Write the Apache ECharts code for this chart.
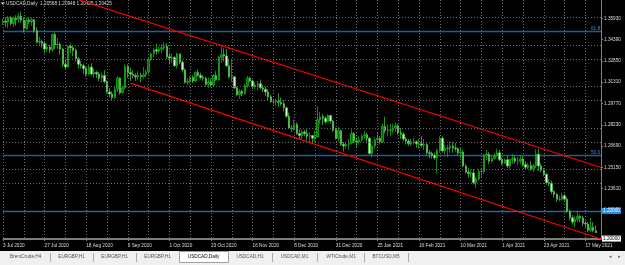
<!DOCTYPE html>
<html>
<head>
<meta charset="utf-8">
<script src="https://cdn.jsdelivr.net/npm/echarts@6/dist/echarts.min.js"></script>
<style>
html, body { margin: 0; padding: 0; background: #000; }
#chart { width: 625px; height: 265px; }
</style>
</head>
<body>
<div id="chart"></div>
<script>
const symbolName = 'USDCAD,Daily';
const lastBar = [1.20568, 1.20948, 1.20425, 1.20425]; // O H L C in the title
const priceTicks = [1.35930, 1.34390, 1.32850, 1.31310, 1.29770, 1.28230, 1.26690, 1.25150, 1.23610, 1.22070];
const fibLevels = [['61.8', 1.3472], ['50.0', 1.2634]];
const userLine = 1.22070;
const bidPrice = 1.20425;
const upperChannel = [[29, 1.3727], [230, 1.2514]];
const lowerChannel = [[49, 1.3124], [230, 1.1997]];
const tabs = ['.BrentCrude,H4', 'EURGBP,H1', 'EURGBP,H1', 'EURGBP,H1', 'USDCAD,Daily', 'USDCAD,H1', 'USDCAD,M1', '.WTICrude,M1', 'BTCUSD,M5'];
const activeTab = 4;

// daily bars: open, close, low, high
const candles = [
  [1.3560,1.3572,1.3545,1.3590],[1.3572,1.3565,1.3530,1.3600],[1.3565,1.3596,1.3520,1.3610],[1.3596,1.3555,1.3540,1.3610],
  [1.3555,1.3594,1.3530,1.3605],[1.3594,1.3585,1.3540,1.3615],[1.3585,1.3608,1.3560,1.3630],[1.3608,1.3578,1.3560,1.3640],
  [1.3578,1.3520,1.3490,1.3600],[1.3520,1.3580,1.3510,1.3595],[1.3580,1.3570,1.3550,1.3600],[1.3570,1.3582,1.3540,1.3600],
  [1.3582,1.3505,1.3490,1.3590],[1.3505,1.3420,1.3410,1.3530],[1.3420,1.3425,1.3390,1.3460],[1.3425,1.3410,1.3380,1.3440],
  [1.3410,1.3370,1.3340,1.3430],[1.3370,1.3385,1.3350,1.3410],[1.3385,1.3365,1.3340,1.3400],[1.3365,1.3475,1.3350,1.3485],
  [1.3475,1.3400,1.3370,1.3490],[1.3400,1.3405,1.3370,1.3450],[1.3405,1.3370,1.3330,1.3420],[1.3370,1.3260,1.3240,1.3380],
  [1.3260,1.3240,1.3225,1.3300],[1.3240,1.3390,1.3235,1.3400],[1.3390,1.3380,1.3340,1.3410],[1.3380,1.3360,1.3320,1.3395],
  [1.3360,1.3300,1.3280,1.3375],[1.3300,1.3260,1.3230,1.3315],[1.3260,1.3250,1.3230,1.3285],[1.3250,1.3230,1.3190,1.3265],
  [1.3230,1.3190,1.3170,1.3245],[1.3190,1.3240,1.3180,1.3260],[1.3240,1.3190,1.3180,1.3270],[1.3190,1.3200,1.3160,1.3230],
  [1.3200,1.3190,1.3160,1.3215],[1.3190,1.3160,1.3140,1.3205],[1.3160,1.3180,1.3130,1.3200],[1.3180,1.3135,1.3120,1.3220],
  [1.3135,1.3060,1.3050,1.3145],[1.3060,1.3045,1.3020,1.3090],[1.3045,1.3020,1.2995,1.3065],[1.3020,1.3080,1.3010,1.3100],
  [1.3080,1.3160,1.3060,1.3175],[1.3160,1.3055,1.3040,1.3165],[1.3055,1.3090,1.3050,1.3105],[1.3090,1.3245,1.3080,1.3260],
  [1.3245,1.3200,1.3160,1.3260],[1.3200,1.3190,1.3140,1.3235],[1.3190,1.3180,1.3160,1.3215],[1.3180,1.3170,1.3140,1.3195],
  [1.3170,1.3180,1.3150,1.3210],[1.3180,1.3170,1.3130,1.3200],[1.3170,1.3185,1.3160,1.3240],[1.3185,1.3205,1.3170,1.3220],
  [1.3205,1.3295,1.3190,1.3310],[1.3295,1.3335,1.3285,1.3345],[1.3335,1.3365,1.3310,1.3380],[1.3365,1.3355,1.3330,1.3410],
  [1.3355,1.3370,1.3340,1.3390],[1.3370,1.3380,1.3340,1.3405],[1.3380,1.3390,1.3360,1.3420],[1.3390,1.3315,1.3300,1.3415],
  [1.3315,1.3305,1.3260,1.3340],[1.3305,1.3310,1.3270,1.3340],[1.3310,1.3250,1.3240,1.3320],[1.3250,1.3335,1.3230,1.3345],
  [1.3335,1.3275,1.3260,1.3340],[1.3275,1.3220,1.3200,1.3290],[1.3220,1.3130,1.3120,1.3230],[1.3130,1.3135,1.3110,1.3160],
  [1.3135,1.3165,1.3120,1.3175],[1.3165,1.3140,1.3125,1.3180],[1.3140,1.3200,1.3130,1.3210],[1.3200,1.3180,1.3170,1.3225],
  [1.3180,1.3165,1.3150,1.3200],[1.3165,1.3160,1.3140,1.3185],[1.3160,1.3115,1.3100,1.3170],[1.3115,1.3130,1.3090,1.3165],
  [1.3130,1.3110,1.3100,1.3160],[1.3110,1.3180,1.3100,1.3190],[1.3180,1.3150,1.3140,1.3210],[1.3150,1.3310,1.3140,1.3320],
  [1.3310,1.3330,1.3270,1.3390],[1.3330,1.3320,1.3280,1.3375],[1.3320,1.3250,1.3240,1.3370],[1.3250,1.3170,1.3160,1.3300],
  [1.3170,1.3170,1.3130,1.3300],[1.3170,1.3090,1.3080,1.3175],[1.3090,1.3040,1.3030,1.3100],[1.3040,1.3065,1.3010,1.3080],
  [1.3065,1.3050,1.3030,1.3080],[1.3050,1.3105,1.3040,1.3120],[1.3105,1.3160,1.3090,1.3175],[1.3160,1.3140,1.3130,1.3170],
  [1.3140,1.3100,1.3080,1.3150],[1.3100,1.3110,1.3080,1.3130],[1.3110,1.3120,1.3070,1.3140],[1.3120,1.3090,1.3080,1.3150],
  [1.3090,1.3080,1.3060,1.3110],[1.3080,1.3060,1.3030,1.3100],[1.3060,1.3025,1.3000,1.3080],[1.3025,1.2990,1.2980,1.3040],
  [1.2990,1.2990,1.2970,1.3010],[1.2990,1.2990,1.2960,1.3010],[1.2990,1.2985,1.2950,1.3050],[1.2985,1.2975,1.2960,1.3020],
  [1.2975,1.2945,1.2920,1.3000],[1.2945,1.2885,1.2870,1.2955],[1.2885,1.2800,1.2790,1.2910],[1.2800,1.2795,1.2770,1.2820],
  [1.2795,1.2825,1.2780,1.2860],[1.2825,1.2760,1.2750,1.2840],[1.2760,1.2745,1.2720,1.2790],[1.2745,1.2770,1.2720,1.2790],
  [1.2770,1.2760,1.2740,1.2785],[1.2760,1.2740,1.2710,1.2790],[1.2740,1.2745,1.2700,1.2770],[1.2745,1.2725,1.2690,1.2750],
  [1.2725,1.2735,1.2700,1.2780],[1.2735,1.2860,1.2730,1.2960],[1.2860,1.2880,1.2830,1.2915],[1.2880,1.2870,1.2820,1.2900],
  [1.2870,1.2845,1.2830,1.2885],[1.2845,1.2890,1.2840,1.2900],[1.2890,1.2850,1.2830,1.2895],[1.2850,1.2785,1.2770,1.2860],
  [1.2785,1.2725,1.2715,1.2800],[1.2725,1.2780,1.2700,1.2810],[1.2780,1.2680,1.2670,1.2790],[1.2680,1.2670,1.2630,1.2700],
  [1.2670,1.2680,1.2650,1.2700],[1.2680,1.2690,1.2640,1.2720],[1.2690,1.2760,1.2680,1.2790],[1.2760,1.2705,1.2690,1.2770],
  [1.2705,1.2700,1.2660,1.2730],[1.2700,1.2715,1.2680,1.2740],[1.2715,1.2740,1.2700,1.2760],[1.2740,1.2750,1.2720,1.2780],
  [1.2750,1.2725,1.2690,1.2765],[1.2725,1.2615,1.2610,1.2735],[1.2615,1.2670,1.2590,1.2680],[1.2670,1.2715,1.2650,1.2730],
  [1.2715,1.2725,1.2690,1.2770],[1.2725,1.2700,1.2680,1.2740],[1.2700,1.2810,1.2690,1.2830],[1.2810,1.2780,1.2760,1.2880],
  [1.2780,1.2785,1.2740,1.2825],[1.2785,1.2785,1.2740,1.2830],[1.2785,1.2800,1.2760,1.2830],[1.2800,1.2815,1.2770,1.2840],
  [1.2815,1.2765,1.2750,1.2830],[1.2765,1.2755,1.2720,1.2800],[1.2755,1.2720,1.2705,1.2770],[1.2720,1.2705,1.2680,1.2735],
  [1.2705,1.2685,1.2670,1.2720],[1.2685,1.2700,1.2670,1.2720],[1.2700,1.2700,1.2680,1.2730],[1.2700,1.2685,1.2660,1.2710],
  [1.2685,1.2685,1.2650,1.2720],[1.2685,1.2675,1.2660,1.2740],[1.2675,1.2680,1.2640,1.2720],[1.2680,1.2620,1.2600,1.2690],
  [1.2620,1.2615,1.2580,1.2640],[1.2615,1.2600,1.2580,1.2630],[1.2600,1.2585,1.2570,1.2620],[1.2585,1.2640,1.2470,1.2650],
  [1.2640,1.2725,1.2620,1.2740],[1.2725,1.2635,1.2620,1.2740],[1.2635,1.2650,1.2610,1.2680],[1.2650,1.2655,1.2590,1.2680],
  [1.2655,1.2670,1.2620,1.2700],[1.2670,1.2655,1.2620,1.2700],[1.2655,1.2650,1.2630,1.2690],[1.2650,1.2620,1.2600,1.2660],
  [1.2620,1.2625,1.2580,1.2660],[1.2625,1.2525,1.2515,1.2640],[1.2525,1.2480,1.2470,1.2540],[1.2480,1.2470,1.2440,1.2510],
  [1.2470,1.2475,1.2440,1.2500],[1.2475,1.2405,1.2390,1.2500],[1.2405,1.2430,1.2365,1.2445],[1.2430,1.2485,1.2420,1.2500],
  [1.2485,1.2485,1.2440,1.2510],[1.2485,1.2600,1.2470,1.2610],[1.2600,1.2610,1.2570,1.2640],[1.2610,1.2560,1.2540,1.2625],
  [1.2560,1.2580,1.2550,1.2600],[1.2580,1.2600,1.2570,1.2620],[1.2600,1.2620,1.2590,1.2650],[1.2620,1.2570,1.2560,1.2640],
  [1.2570,1.2545,1.2530,1.2590],[1.2545,1.2570,1.2540,1.2580],[1.2570,1.2525,1.2510,1.2600],[1.2525,1.2570,1.2500,1.2580],
  [1.2570,1.2580,1.2540,1.2610],[1.2580,1.2560,1.2540,1.2600],[1.2560,1.2560,1.2530,1.2590],[1.2560,1.2575,1.2540,1.2600],
  [1.2575,1.2535,1.2520,1.2595],[1.2535,1.2515,1.2500,1.2560],[1.2515,1.2530,1.2500,1.2545],[1.2530,1.2505,1.2490,1.2560],
  [1.2505,1.2525,1.2480,1.2540],[1.2525,1.2610,1.2510,1.2645],[1.2610,1.2525,1.2490,1.2650],[1.2525,1.2495,1.2480,1.2545],
  [1.2495,1.2465,1.2450,1.2510],[1.2465,1.2405,1.2390,1.2475],[1.2405,1.2400,1.2380,1.2430],[1.2400,1.2340,1.2320,1.2420],
  [1.2340,1.2320,1.2295,1.2350],[1.2320,1.2285,1.2265,1.2330],[1.2285,1.2285,1.2270,1.2310],[1.2285,1.2310,1.2275,1.2335],
  [1.2310,1.2285,1.2270,1.2320],[1.2285,1.2200,1.2185,1.2300],[1.2200,1.2150,1.2130,1.2210],[1.2150,1.2120,1.2100,1.2170],
  [1.2120,1.2140,1.2080,1.2160],[1.2140,1.2160,1.2120,1.2200],[1.2160,1.2150,1.2120,1.2175],[1.2150,1.2110,1.2090,1.2165],
  [1.2110,1.2105,1.2080,1.2130],[1.2105,1.2060,1.2045,1.2120],[1.2060,1.2080,1.2050,1.2150],[1.2080,1.2057,1.2045,1.2120],
  [1.20568,1.20425,1.20425,1.20948]
];

// trading days from 3 Jul 2020, two empty slots after the last bar
const months = ['Jan','Feb','Mar','Apr','May','Jun','Jul','Aug','Sep','Oct','Nov','Dec'];
const dates = [];
for (let d = new Date(Date.UTC(2020, 6, 3)); dates.length < candles.length + 2; d.setUTCDate(d.getUTCDate() + 1)) {
  const wd = d.getUTCDay(), m = d.getUTCMonth(), day = d.getUTCDate();
  if (wd === 0 || wd === 6) continue;
  if ((m === 11 && day === 25) || (m === 0 && day === 1)) continue;
  dates.push(day + ' ' + months[m] + ' ' + d.getUTCFullYear());
}

const font = 'Liberation Sans';
const fs = 4.7;
const fibBlue = '#1c5d9e';

// tab strip
const ctx = document.createElement('canvas').getContext('2d');
ctx.font = fs + 'px "' + font + '"';
const tabEls = [{ type: 'rect', shape: { x: 0, y: 251, width: 625, height: 14 }, style: { fill: '#f0f0f0' } }];
let tx = 0;
tabs.forEach(function (name, i) {
  const w = Math.round(ctx.measureText(name).width + 17);
  if (i === activeTab) {
    tabEls.push({ type: 'rect', shape: { x: tx + 0.5, y: 251.5, width: w, height: 11 }, style: { fill: '#fff', stroke: '#a0a0a0', lineWidth: 1 } });
  } else if (i !== activeTab - 1) {
    tabEls.push({ type: 'line', shape: { x1: tx + w + 0.5, y1: 253, x2: tx + w + 0.5, y2: 262 }, style: { stroke: '#a8a8a8', lineWidth: 1 } });
  }
  tabEls.push({ type: 'text', x: tx + w / 2, y: 257, style: { text: name, font: fs + 'px "' + font + '"', fill: i === activeTab ? '#000' : '#505050', align: 'center', verticalAlign: 'middle' } });
  tx += w;
});
tabEls.push({ type: 'text', x: 609, y: 257, style: { text: '\u25C2', font: '5px "DejaVu Sans"', fill: '#606060', verticalAlign: 'middle' } });
tabEls.push({ type: 'text', x: 618, y: 257, style: { text: '\u25B8', font: '5px "DejaVu Sans"', fill: '#606060', verticalAlign: 'middle' } });

function priceLabel(fg, bg) {
  return { show: true, position: 'end', distance: 1, color: fg, backgroundColor: bg, padding: [1, 1, 0, 1],
    fontSize: fs, fontFamily: font, formatter: function (p) { return p.value.toFixed(5); } };
}

const chart = echarts.init(document.getElementById('chart'));
chart.setOption({
  backgroundColor: '#000',
  animation: false,
  textStyle: { fontFamily: font },
  grid: { left: -2, right: 24, top: 0, bottom: 26 },
  xAxis: {
    type: 'category',
    data: dates,
    boundaryGap: false,
    axisLine: { lineStyle: { color: '#808080', width: 1 } },
    axisTick: { show: true, length: 2, interval: function (i) { return i % 16 === 0; }, lineStyle: { color: '#808080' } },
    axisLabel: {
      interval: function (i) { return i % 16 === 0; },
      align: 'left', margin: 4, color: '#dcdcdc', fontSize: fs, fontFamily: font
    },
    splitLine: { show: true, interval: function (i) { return i % 8 === 0; }, lineStyle: { color: '#6a6a6a', type: [1, 2], width: 1 } }
  },
  yAxis: {
    type: 'value',
    position: 'right',
    min: 1.1997,
    max: 1.3725,
    scale: true,
    axisLine: { show: true, lineStyle: { color: '#808080', width: 1 } },
    axisTick: { show: true, length: 2, customValues: priceTicks, lineStyle: { color: '#808080' } },
    axisLabel: { customValues: priceTicks, margin: 3, color: '#dcdcdc', fontSize: fs, fontFamily: font,
      formatter: function (v) { return v.toFixed(5); } },
    splitLine: { show: false }
  },
  graphic: [
    { type: 'polygon', shape: { points: [[1, 2.5], [5, 2.5], [3, 5]] }, style: { fill: '#fff' } },
    { type: 'text', x: 6, y: 4, style: { text: symbolName + '  ' + lastBar.map(function (v) { return v.toFixed(5); }).join(' '),
      font: fs + 'px "' + font + '"', fill: '#d8d8d8', verticalAlign: 'middle' } }
  ].concat(tabEls),
  series: [
    {
      type: 'line', data: [], z: 1, silent: true,
      markLine: {
        silent: true, symbol: 'none', label: { show: false },
        lineStyle: { color: '#6a6a6a', type: [1, 2], width: 1 },
        data: priceTicks.map(function (v) { return { yAxis: v }; })
      }
    },
    {
      type: 'candlestick',
      data: candles,
      barWidth: 2,
      z: 3,
      itemStyle: {
        color: '#0a6a0a', color0: '#d6f7d0',
        borderColor: '#18c018', borderColor0: '#40d040', borderWidth: 0.7
      },
      markLine: {
        silent: true, symbol: 'none', z: 2,
        data: fibLevels.map(function (f) {
          return { name: f[0], yAxis: f[1], lineStyle: { color: fibBlue, type: 'solid', width: 1.3 },
            label: { show: true, position: 'insideEndTop', color: '#4a8fd6', fontSize: fs, fontFamily: font, distance: [1, 0], formatter: '{b}' } };
        }).concat([
          { name: 'line', yAxis: userLine, lineStyle: { color: fibBlue, type: 'solid', width: 1.3 }, label: priceLabel('#fff', '#2a8fe6') },
          { name: 'bid', yAxis: bidPrice, lineStyle: { color: '#7a7a7a', type: 'solid', width: 1 }, label: priceLabel('#000', '#fff') }
        ])
      }
    },
    { type: 'line', data: upperChannel, z: 4, symbol: 'none', silent: true, lineStyle: { color: '#ff0000', width: 1.2 } },
    { type: 'line', data: lowerChannel, z: 4, symbol: 'none', silent: true, lineStyle: { color: '#ff0000', width: 1.2 } }
  ]
});
</script>
</body>
</html>
